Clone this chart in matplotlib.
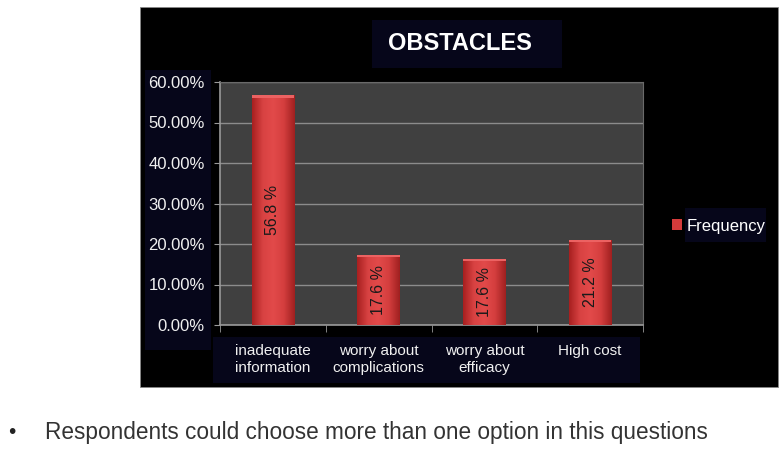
import matplotlib
matplotlib.use("Agg")
import matplotlib.pyplot as plt
import numpy as np
from matplotlib.patches import Rectangle
from matplotlib.colors import LinearSegmentedColormap
from matplotlib.ticker import PercentFormatter

plt.rcParams['font.family'] = ['Liberation Sans', 'DejaVu Sans']

categories = ["inadequate\ninformation", "worry about\ncomplications", "worry about\nefficacy", "High cost"]
values = [0.568, 0.174, 0.164, 0.211]
bar_labels = ["56.8 %", "17.6 %", "17.6 %", "21.2 %"]
series_name = "Frequency"
title = "OBSTACLES"
note = "Respondents could choose more than one option in this questions"

W, H = 783, 450
fig = plt.figure(figsize=(W / 100, H / 100), dpi=100)
fig.patch.set_facecolor("white")

def fx(px): return px / W
def fy(py): return 1 - py / H

# black chart panel
fig.patches.append(Rectangle((fx(140), fy(387)), fx(778) - fx(140), fy(7) - fy(387),
                             transform=fig.transFigure, facecolor="black", edgecolor="#888888",
                             linewidth=0.6, zorder=0))
navy = "#06061a"
for (x0, y0, x1, y1) in [(372, 20, 562, 68), (145, 70, 211, 350), (213, 337, 640, 383), (685, 208, 766, 242)]:
    fig.patches.append(Rectangle((fx(x0), fy(y1)), fx(x1) - fx(x0), fy(y0) - fy(y1),
                                 transform=fig.transFigure, facecolor=navy, edgecolor="none", zorder=0.5))

ax = fig.add_axes([fx(220), fy(325), fx(643) - fx(220), fy(82) - fy(325)])
ax.set_zorder(2)
ax.set_facecolor("#404040")
x = np.arange(len(categories))
bars = ax.bar(x, values, width=0.40, color="#d53b3b", edgecolor="none", zorder=3, label=series_name)

cmap = LinearSegmentedColormap.from_list("r", ["#a82020", "#d84242", "#e24a4a", "#d43e3e", "#a02020"])
grad = np.linspace(0, 1, 64).reshape(1, -1)
for b in bars:
    bx, by, bw, bh = b.get_x(), b.get_y(), b.get_width(), b.get_height()
    im = ax.imshow(grad, cmap=cmap, extent=(bx, bx + bw, by, by + bh), aspect="auto", zorder=3.5,
                   interpolation="bicubic")
    im.set_clip_path(b)
    top = Rectangle((bx, by + bh - 0.007), bw, 0.007, facecolor="#ec6262", edgecolor="none", zorder=4)
    ax.add_patch(top)

for b, lab in zip(bars, bar_labels):
    ax.text(b.get_x() + b.get_width() / 2, b.get_height() / 2, lab, rotation=90,
            ha="center", va="center", fontsize=11.5, color="#1a1a1a", zorder=6)

ax.set_xlim(-0.5, len(categories) - 0.5)
ax.set_ylim(0, 0.60)
ax.set_yticks(np.arange(0, 0.61, 0.10))
ax.yaxis.set_major_formatter(PercentFormatter(1.0, decimals=2))
ax.grid(axis="y", color="#8c8c8c", linewidth=1.0, zorder=1)
ax.set_axisbelow(True)

ax.set_xticks(x)
ax.set_xticklabels(categories)
ax.set_xticks(np.arange(-0.5, len(categories)), minor=True)
ax.tick_params(axis="x", which="major", length=0, pad=14, labelsize=11, labelcolor="#f0f0f0")
ax.tick_params(axis="x", which="minor", length=5, color="#999999", direction="out")
ax.tick_params(axis="y", length=4, color="#999999", labelsize=12, labelcolor="#f0f0f0", pad=7)

for s in ["left", "bottom"]:
    ax.spines[s].set_color("#9a9a9a")
    ax.spines[s].set_linewidth(1.2)
for s in ["top", "right"]:
    ax.spines[s].set_color("#6a6a6a")

fig.text(fx(460), fy(44), title, ha="center", va="center", fontsize=17, fontweight="bold", color="white")

leg = fig.legend(handles=[bars], labels=[series_name], loc="center left",
                 bbox_to_anchor=(fx(657), fy(226)), frameon=False, fontsize=12,
                 handlelength=0.6, handleheight=0.6, handletextpad=0.3, labelcolor="white")

fig.text(fx(8), fy(433), "•", ha="left", va="center", fontsize=15, color="#222222")
fig.text(fx(45), fy(433), note, ha="left", va="center", fontsize=16.3, color="#333333")

fig.savefig("out.png", dpi=100, facecolor="white")
